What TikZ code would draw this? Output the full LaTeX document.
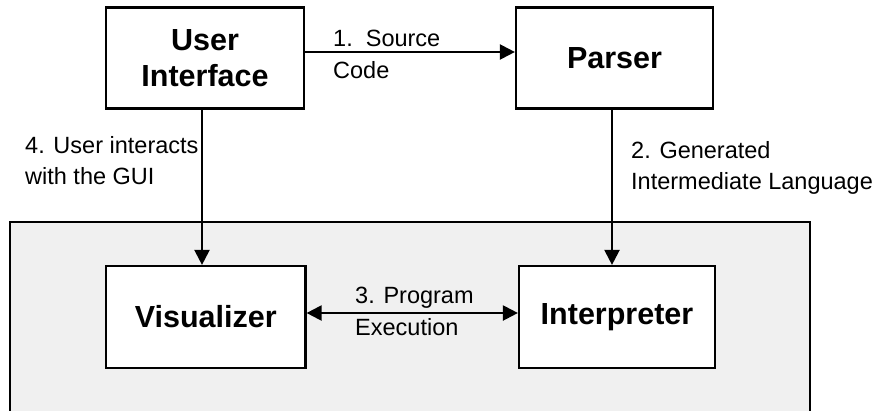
\documentclass[tikz,border=0pt]{standalone}
\usepackage{fontspec}
\setmainfont{Liberation Sans}
\usetikzlibrary{arrows.meta}
\definecolor{panelgray}{RGB}{240,240,240}
\tikzset{
  block/.style={draw=black, line width=2.2pt, fill=white, inner sep=0pt,
    align=center, font=\fontsize{30.5}{36}\selectfont\bfseries},
  lbl/.style={inner sep=0pt, anchor=north west, align=left,
    font=\fontsize{23.5}{31.5}\selectfont},
  tip/.style={Triangle[length=15pt,width=15pt]},
  flow/.style={line width=2.2pt, -{Triangle[length=15pt,width=15pt]}},
  bothflow/.style={line width=2.2pt, {Triangle[length=15pt,width=15pt]}-{Triangle[length=15pt,width=15pt]}}
}
\begin{document}
\begin{tikzpicture}[x=1pt, y=-1pt]
  \useasboundingbox (0,0) rectangle (880,410);

  % runtime panel, open at the bottom edge
  \fill[panelgray] (10,222) rectangle (810,412);
  \draw[line width=2.2pt] (10,412) -- (10,222) -- (810,222) -- (810,412);

  % components
  \node[block, minimum width=198pt, minimum height=101pt] (ui) at (205,58) {User\\Interface};
  \node[block, minimum width=197pt, minimum height=101pt] (parser) at (614.5,58) {Parser};
  \node[block, minimum width=199.5pt, minimum height=102pt] (vis) at (205.75,317) {Visualizer};
  \node[block, minimum width=196pt, minimum height=102pt] (interp) at (617,317) {Interpreter};

  % connectors
  \draw[flow] ([yshift=6pt]ui.east) -- ([yshift=6pt]parser.west);
  \draw[flow] ([xshift=-2.5pt]parser.south) -- ([xshift=-2.5pt]parser.south |- interp.north);
  \draw[bothflow] ([yshift=4pt]vis.east) -- ([yshift=4pt]interp.west);
  \draw[flow] ([xshift=-3pt]ui.south) -- ([xshift=-3pt]ui.south |- vis.north);

  % connector labels
  \node[lbl] (l1) at (333,30) {1.\ \ Source\\Code};
  \node[lbl] (l2) at (631,141) {2. Generated\\Intermediate Language};
  \node[lbl] (l3) at (355,287) {3. Program\\Execution};
  \node[lbl] (l4) at (25,136) {4. User interacts\\with the GUI};
\end{tikzpicture}
\end{document}
